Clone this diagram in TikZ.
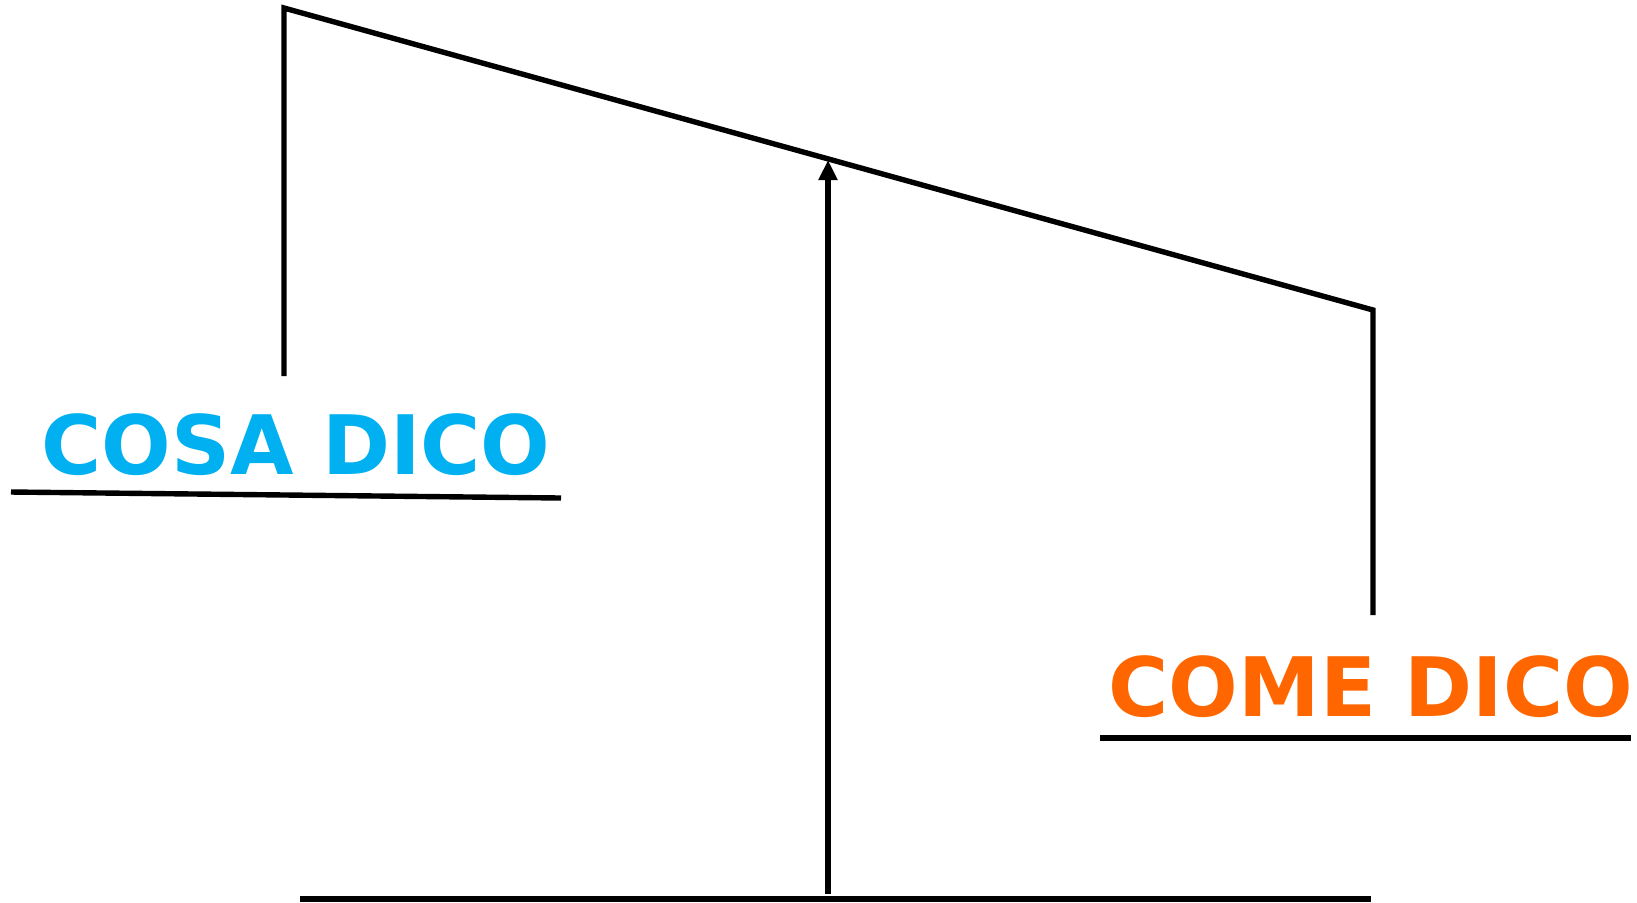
\documentclass[tikz,border=0pt]{standalone}
\usepackage{fontspec}
\setmainfont{DejaVu Sans}
\usepackage{xcolor}
\usetikzlibrary{arrows.meta,positioning,calc}
\definecolor{cosablue}{HTML}{00B0F0}
\definecolor{comeorange}{HTML}{FF6600}

\begin{document}
\begin{tikzpicture}[
    x=0.5pt, y=-0.5pt,
    bar/.style={
        line width=2.7pt
    },
    arrow/.style={
        -{Triangle[length=10pt,width=9pt]},
        line width=2.7pt
    },
    label/.style={
        font=\bfseries\fontsize{41}{41}\selectfont,
        inner sep=0pt,
        anchor=base
    }
]
\useasboundingbox (0,0) rectangle (1637,902);

% beam
\coordinate (beamL) at (284,8);
\coordinate (beamR) at (1373,310);
\coordinate (legL) at (284,376);
\coordinate (legR) at (1373,615);

% base
\coordinate (baseL) at (300,899);
\coordinate (baseR) at (1371,899);
\coordinate (pivot) at (828,894);
\coordinate (tip) at (828,160);

\node[label, text=cosablue] (cosa) at (296,474) {COSA DICO};
\node[label, text=comeorange] (come) at (1371,716) {COME DICO};

\coordinate (cosaL) at (11,492);
\coordinate (cosaR) at (561,498);
\coordinate (comeL) at (1100,738);
\coordinate (comeR) at (1631,738);

\draw[bar] (legL) -- (beamL) -- (beamR) -- (legR);
\draw[arrow] (pivot) -- (tip);
\draw[bar] (baseL) -- (baseR);

\draw[bar] (cosaL) -- (cosaR);
\draw[bar] (comeL) -- (comeR);

\end{tikzpicture}
\end{document}
